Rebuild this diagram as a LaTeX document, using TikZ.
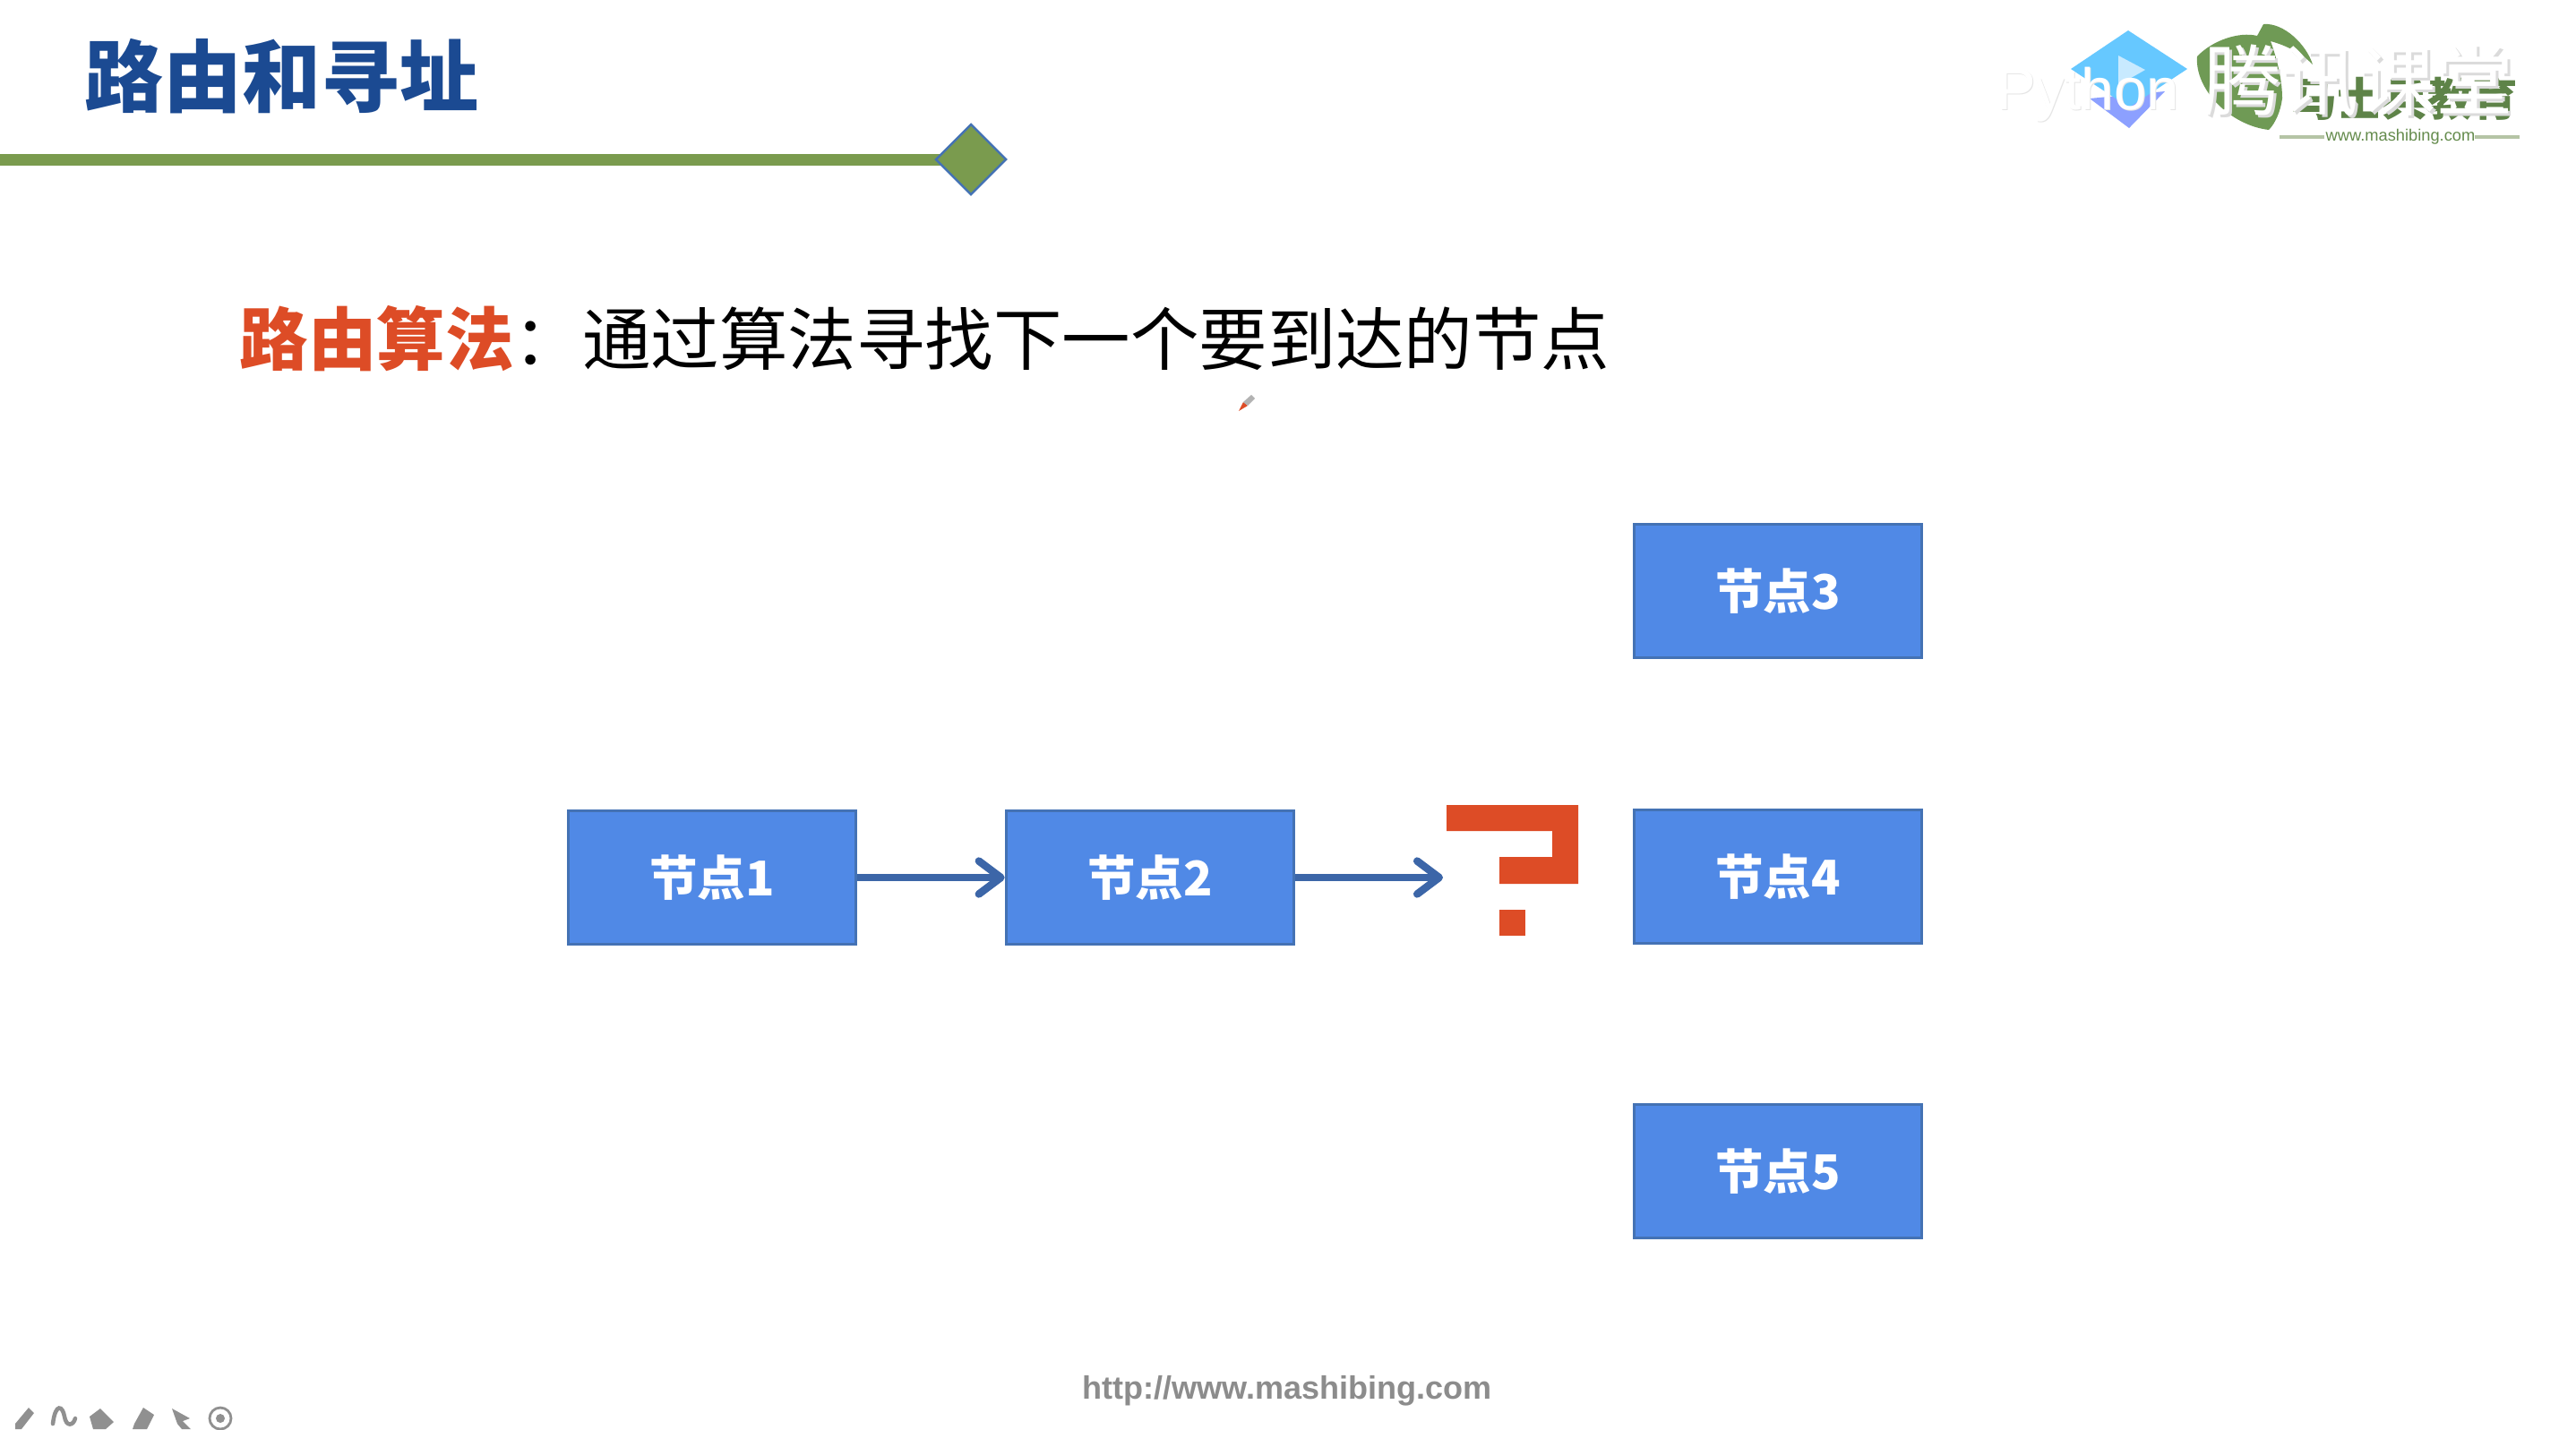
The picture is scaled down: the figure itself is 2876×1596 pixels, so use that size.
\documentclass[tikz,border=0pt]{standalone}
\usepackage{xcolor}
\usepackage{fontspec}
\setmainfont{Noto Sans CJK SC}
\newfontfamily\urlfont{Liberation Sans}
\usetikzlibrary{shapes,arrows.meta,positioning}

\definecolor{titleblue}{HTML}{1B4A92}
\definecolor{barblue}{HTML}{5089E6}
\definecolor{edgeblue}{HTML}{4472B4}
\definecolor{arrowblue}{HTML}{3C66A8}
\definecolor{rulegreen}{HTML}{7A9B4E}
\definecolor{alertred}{HTML}{DD4C26}
\definecolor{toolgray}{HTML}{909090}
\definecolor{logogreen}{HTML}{6F9A55}
\definecolor{logosky}{HTML}{66C8FF}
\definecolor{logoviolet}{HTML}{8CA0FF}
\definecolor{logopale}{HTML}{C8EAFF}
\definecolor{logorule}{HTML}{B5C4A5}

\tikzset{
  routerbox/.style={draw=edgeblue,line width=1pt,fill=barblue,text=white,
    minimum width=3.21cm,minimum height=1.49cm,inner sep=0pt,
    font=\fontsize{15.2}{18}\selectfont\bfseries},
  hop/.style={draw=arrowblue,line width=2.2pt,-{Straight Barb[length=7pt,width=10.5pt,line width=2.4pt,round]}},
  toolicon/.style={fill=toolgray,draw=none}
}

\begin{document}
\begin{tikzpicture}[x=0.01cm,y=-0.01cm]
\useasboundingbox (0,0) rectangle (2876,1596);
\fill[white] (0,0) rectangle (2876,1596);

% Title
\node[anchor=west,inner sep=0pt,text=titleblue,font=\fontsize{25}{28}\selectfont\bfseries] (title) at (94,85) {路由和寻址};
\draw[draw=rulegreen,line width=3.7pt] (0,178) -- (1060,178);
\node[diamond,draw=edgeblue,fill=rulegreen,line width=0.7pt,minimum width=0.79cm,minimum height=0.79cm,inner sep=0pt] (titlemark) at (1084,178) {};

% Heading line
\node[anchor=west,inner sep=0pt,font=\fontsize{21.75}{26}\selectfont] (heading) at (267,378) {\textcolor{alertred}{\textbf{路由算法}}：通过算法寻找下一个要到达的节点};

% Pen cursor
\fill[alertred] (1383,459) -- (1388,449) -- (1393,453) -- cycle;
\fill[black!30] (1388,449) -- (1397,441) -- (1401,445) -- (1393,453) -- cycle;

% Nodes
\foreach \name/\nodetext/\x/\y in {a/节点1/795/980, b/节点2/1284/980, c/节点3/1985/660, d/节点4/1985/979, e/节点5/1985/1308}
  \node[routerbox] (\name) at (\x,\y) {\nodetext};

% Arrows
\coordinate (asked) at (1611,980);
\draw[hop] (a) -- (b);
\draw[hop] (b) -- (asked);

% Question mark
\fill[alertred] (1615,899) -- (1762,899) -- (1762,987) -- (1674,987) -- (1674,957) -- (1733,957) -- (1733,928) -- (1615,928) -- cycle;
\fill[alertred] (1674,1016) rectangle (1703,1045);

% Logo, blue part
\fill[logoviolet] (2333,110) -- (2417,102) -- (2377,143) -- cycle;
\fill[logosky] (2312,77) -- (2376,34) -- (2442,77) -- (2377,120) -- cycle;
\fill[logopale] (2365,62) -- (2395,78) -- (2365,95) -- cycle;

% Logo, green part
\fill[logogreen] (2527,27) .. controls (2550,25) and (2575,50) .. (2582,72) .. controls (2568,58) and (2550,50) .. (2535,46) .. controls (2540,60) and (2548,85) .. (2548,110) .. controls (2546,125) and (2540,138) .. (2533,145) .. controls (2490,140) and (2450,100) .. (2453,63) .. controls (2470,45) and (2500,35) .. (2520,40) -- cycle;
\node[inner sep=0pt,text=logogreen!85!black,font=\fontsize{14.4}{18}\selectfont\bfseries] (logotext) at (2685,110) {马士兵教育};
\draw[logorule,line width=1.2pt] (2545,153) -- (2595,153);
\draw[logorule,line width=1.2pt] (2763,153) -- (2813,153);
\node[inner sep=0pt,text=logogreen!90!black,font=\urlfont\fontsize{5.2}{7}\selectfont] (logourl) at (2680,153) {www.mashibing.com};

% Watermark
\node[inner sep=0pt,text=black!10,font=\urlfont\fontsize{18.6}{20}\selectfont] (pyshadow) at (2332,107) {Python};
\node[inner sep=0pt,text=white,font=\urlfont\fontsize{18.6}{20}\selectfont] (pymark) at (2331,106) {Python};
\node[inner sep=0pt,text=black!14,font=\fontsize{24.6}{28}\selectfont] (roomshadow) at (2636,93) {腾讯课堂};
\node[inner sep=0pt,text=white,font=\fontsize{24.6}{28}\selectfont] (roommark) at (2633,90) {腾讯课堂};

% Footer
\node[inner sep=0pt,text=black!45,font=\urlfont\bfseries\fontsize{10.25}{12}\selectfont] (footer) at (1437,1553) {http://www.mashibing.com};

% Tool icons
\begin{scope}
\clip (0,0) rectangle (2876,1596);
\fill[toolicon] (17,1590) -- (32,1572) -- (38,1578) -- (24,1596) -- (17,1596) -- cycle;
\draw[toolgray,line width=1.3pt,line cap=round] (59,1590) .. controls (62,1566) and (70,1570) .. (72,1582) .. controls (74,1594) and (82,1592) .. (84,1584);
\fill[toolicon] (100,1582) -- (112,1573) -- (127,1588) -- (118,1596) -- (104,1596) -- cycle;
\fill[toolicon] (150,1590) -- (160,1572) -- (172,1580) -- (164,1596) -- (148,1596) -- cycle;
\fill[toolicon] (192,1573) -- (212,1584) -- (204,1587) -- (213,1596) -- (203,1596) -- (198,1590) -- cycle;
\draw[toolgray,line width=0.8pt] (246,1584) circle (12);
\fill[toolicon] (246,1584) circle (5);
\end{scope}
\end{tikzpicture}
\end{document}
